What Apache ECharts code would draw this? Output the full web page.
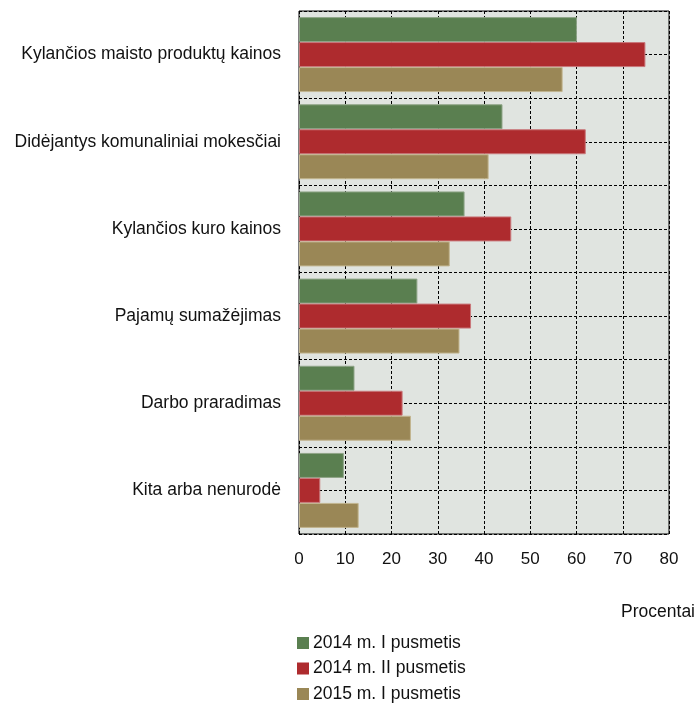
<!DOCTYPE html>
<html>
<head>
<meta charset="utf-8">
<script src="https://cdn.jsdelivr.net/npm/echarts@6/dist/echarts.min.js"></script>
<style>
  html, body { margin: 0; padding: 0; background: #fff; }
  #chart { width: 696px; height: 710px; }
</style>
</head>
<body>
<div id="chart"></div>
<script>
'use strict';

//chart data
var categories = [
  'Kylančios maisto produktų kainos',
  'Didėjantys komunaliniai mokesčiai',
  'Kylančios kuro kainos',
  'Pajamų sumažėjimas',
  'Darbo praradimas',
  'Kita arba nenurodė'
];
var seriesNames = ['2014 m. I pusmetis', '2014 m. II pusmetis', '2015 m. I pusmetis'];
var h1_2014 = [60.1, 44.0, 35.8, 25.6, 12.0, 9.7];
var h2_2014 = [74.9, 62.0, 45.9, 37.2, 22.4, 4.6];
var h1_2015 = [57.0, 41.0, 32.6, 34.7, 24.2, 12.9];
var xTicks = [0, 80, 10]; // min, max, interval

var colors = ['#5a7f50', '#ae2b2e', '#9a8756'];
var borders = ['#8fa588', '#c9777a', '#c2b58f'];
var font = '"Liberation Sans", Arial, sans-serif';

var chart = echarts.init(document.getElementById('chart'));

function barSeries(idx, data) {
  return {
    name: seriesNames[idx],
    type: 'bar',
    yAxisIndex: 0,
    data: data,
    barGap: '0%',
    barCategoryGap: '14%',
    itemStyle: { color: colors[idx], borderColor: borders[idx], borderWidth: 1 },
    emphasis: { disabled: true }
  };
}

var dashed = { color: '#000', width: 1, type: [3, 2] };

chart.setOption({
  animation: false,
  textStyle: { fontFamily: font },
  grid: {
    left: 299, top: 11, right: 27, bottom: 176,
    outerBoundsMode: 'none',
    show: true, backgroundColor: '#e0e4e0', borderColor: '#000', borderWidth: 1
  },
  xAxis: {
    type: 'value',
    min: xTicks[0], max: xTicks[1], interval: xTicks[2],
    axisLine: { show: false },
    axisTick: { show: false },
    axisLabel: { color: '#111', fontSize: 17, margin: 17, fontFamily: font },
    splitLine: { show: true, lineStyle: dashed }
  },
  yAxis: [{
    type: 'category',
    data: categories,
    inverse: true,
    axisLine: { show: false },
    axisTick: { show: false },
    axisLabel: { color: '#111', fontSize: 17.5, margin: 18, fontFamily: font },
    splitLine: { show: true, lineStyle: dashed }
  }, {
    //helper axis for dashed lines through the category centres
    type: 'value',
    min: 0, max: 12, interval: 1,
    axisLine: { show: false },
    axisTick: { show: false },
    axisLabel: { show: false },
    splitLine: { show: true, lineStyle: dashed }
  }],
  legend: {
    orient: 'vertical',
    left: 297, top: 634, height: 76,
    padding: 0,
    itemWidth: 12, itemHeight: 12, itemGap: 7.5,
    icon: 'rect',
    selectedMode: false,
    data: seriesNames,
    itemStyle: { borderWidth: 0 },
    textStyle: { fontSize: 17.5, color: '#111', fontFamily: font, padding: [0, 0, 0, -1] }
  },
  graphic: [{
    type: 'text',
    right: 1, top: 603,
    style: { text: 'Procentai', fontSize: 17.5, fill: '#111', fontFamily: font }
  }],
  series: [
    barSeries(0, h1_2014),
    barSeries(1, h2_2014),
    barSeries(2, h1_2015)
  ]
});
</script>
</body>
</html>
